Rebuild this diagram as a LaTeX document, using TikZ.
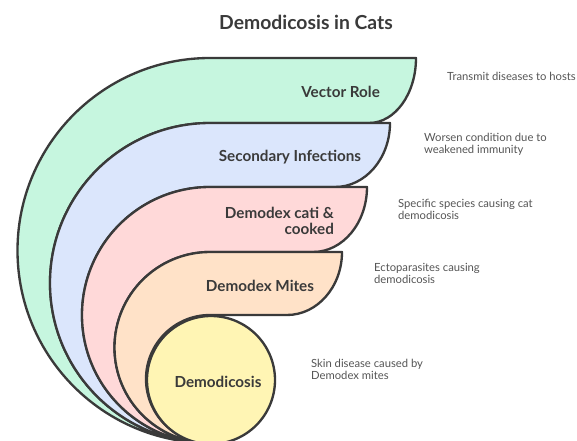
\documentclass[tikz,border=0pt]{standalone}
\usepackage{fontspec}
\setmainfont{Lato}
\usepackage{tikz}

\definecolor{encre}{HTML}{3A3A3A}
\definecolor{gris}{HTML}{555555}
\definecolor{vert}{HTML}{C6F6DF}
\definecolor{bleu}{HTML}{DBE6FC}
\definecolor{rose}{HTML}{FFD9D9}
\definecolor{peche}{HTML}{FFE2C8}
\definecolor{jaune}{HTML}{FFF5B4}

\begin{document}
\begin{tikzpicture}[x=0.03cm,y=-0.03cm,
        bande/.style={draw=encre,line width=2pt,line join=round},
        etiquette/.style={font=\fontsize{13}{13.7}\selectfont\bfseries,text=encre},
        note/.style={anchor=west,align=left,font=\fontsize{9.6}{10.3}\selectfont,text=gris}]
            \useasboundingbox (0,0) rectangle (577,441);
            \node[font=\fontsize{16.5}{18}\selectfont\bfseries,text=encre] (titre) at (306,22) {Demodicosis in Cats};
            % bandes, de l'exterieur vers l'interieur
            \draw[bande,fill=vert] (210,443) arc[start angle=90,end angle=270,radius=192.5] -- (416,58)
                arc[start angle=0,end angle=90,x radius=47,y radius=65] -- (210,123)
                arc[start angle=270,end angle=90,radius=160] -- cycle;
            \draw[bande,fill=bleu] (210,443) arc[start angle=90,end angle=270,radius=160] -- (390,123)
                arc[start angle=0,end angle=90,x radius=55,y radius=64] -- (210,187)
                arc[start angle=270,end angle=90,radius=128] -- cycle;
            \draw[bande,fill=rose] (210,443) arc[start angle=90,end angle=270,radius=128] -- (367,187)
                arc[start angle=0,end angle=90,x radius=54,y radius=65] -- (210,252)
                arc[start angle=270,end angle=90,radius=95.5] -- cycle;
            \draw[bande,fill=peche] (210,443) arc[start angle=90,end angle=270,radius=95.5] -- (342,252)
                arc[start angle=0,end angle=90,x radius=55,y radius=63] -- (210,315)
                arc[start angle=270,end angle=90,radius=64] -- cycle;
            \draw[bande,fill=jaune] (211,380) circle[radius=64];
            % etiquettes
            \node[etiquette,anchor=east] (vecteur) at (384,92) {Vector Role};
            \node[etiquette] (secondaire) at (290,157) {Secondary Infections};
            \node[etiquette,anchor=east,align=right] (cati) at (338,221) {Demodex cati \&\\cooked};
            \node[etiquette] (acariens) at (260,286) {Demodex Mites};
            \node[etiquette] (demodicose) at (218,382) {Demodicosis};
            % descriptions
            \node[note] (n-vecteur) at (443,76) {Transmit diseases to hosts};
            \node[note] (n-secondaire) at (420,144) {Worsen condition due to\\weakened immunity};
            \node[note] (n-cati) at (394,209) {Specific species causing cat\\demodicosis};
            \node[note] (n-acariens) at (370,273) {Ectoparasites causing\\demodicosis};
            \node[note] (n-demodicose) at (307,369) {Skin disease caused by\\Demodex mites};
        \end{tikzpicture}
\end{document}
